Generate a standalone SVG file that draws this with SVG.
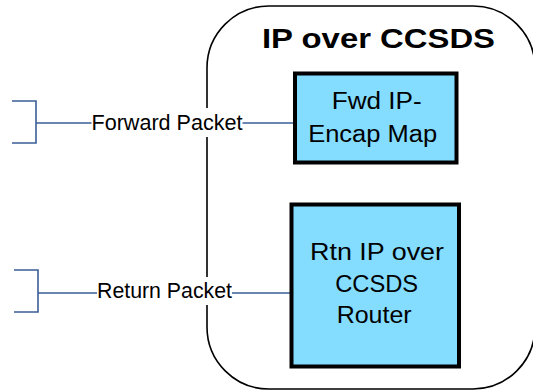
<svg xmlns="http://www.w3.org/2000/svg" width="533" height="391" viewBox="0 0 533 391">
<style>
.conn{fill:none;stroke:#3A5E97;stroke-width:1.6}
.box{fill:#84DCFF;stroke:#000;stroke-width:4}
.lbl{font-family:"Liberation Sans",Arial,sans-serif;font-size:22px;fill:#000}
.txt{font-family:"Liberation Sans",Arial,sans-serif;font-size:23px;fill:#000;text-anchor:middle}
.title{font-family:"Liberation Sans",Arial,sans-serif;font-size:28px;font-weight:bold;fill:#000;text-anchor:middle}
</style>
<rect width="533" height="391" fill="#fff"/>
<g id="container">
<rect x="207" y="6" width="328" height="383" rx="62" ry="62" fill="none" stroke="#000" stroke-width="1.6"/>
<text class="title" x="378.5" y="48" textLength="233" lengthAdjust="spacingAndGlyphs">IP over CCSDS</text>
</g>
<g id="connectors">
<path class="conn" d="M12 101 H36 V143 H12 M36 123 H294"/>
<path class="conn" d="M14 270 H38 V312 H14 M38 293 H291"/>
<rect x="91.5" y="108" width="151" height="29" fill="#fff"/>
<text class="lbl" x="91.5" y="130" textLength="151" lengthAdjust="spacingAndGlyphs">Forward Packet</text>
<rect x="97" y="277" width="135" height="28" fill="#fff"/>
<text class="lbl" x="97" y="298" textLength="135" lengthAdjust="spacingAndGlyphs">Return Packet</text>
</g>
<g id="fwd">
<rect class="box" x="295" y="73.5" width="161.5" height="89"/>
<text class="txt" x="376.7" y="109" textLength="90" lengthAdjust="spacingAndGlyphs">Fwd IP-</text>
<text class="txt" x="372.7" y="141.7" textLength="129" lengthAdjust="spacingAndGlyphs">Encap Map</text>
</g>
<g id="rtn">
<rect class="box" x="291.5" y="204.5" width="167.5" height="162"/>
<text class="txt" x="377" y="260" textLength="134" lengthAdjust="spacingAndGlyphs">Rtn IP over</text>
<text class="txt" x="376.7" y="291.7" textLength="83" lengthAdjust="spacingAndGlyphs">CCSDS</text>
<text class="txt" x="374.2" y="323.3" textLength="75" lengthAdjust="spacingAndGlyphs">Router</text>
</g>
</svg>
